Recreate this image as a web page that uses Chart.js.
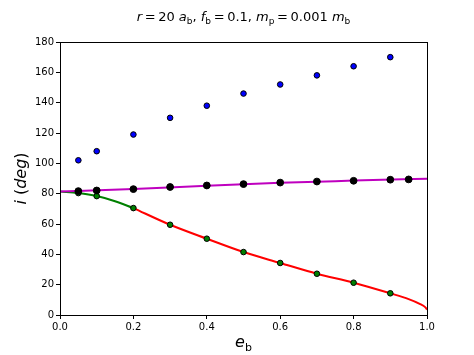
<!DOCTYPE html>
<html>
<head>
<meta charset="utf-8">
<script src="https://cdn.jsdelivr.net/npm/chart.js@4"></script>
<style>
  html, body { margin: 0; padding: 0; background: #fff; }
  #wrap { width: 474px; height: 355px; }
</style>
</head>
<body>
<div id="wrap"><canvas id="chart"></canvas></div>
<script>
// values
var eGrid = [0.05, 0.1, 0.2, 0.3, 0.4, 0.5, 0.6, 0.7, 0.8, 0.9];
var blueInc = [102, 108, 119, 130, 138, 146, 152, 158, 164, 170];

var blackE = [0.05, 0.1, 0.2, 0.3, 0.4, 0.5, 0.6, 0.7, 0.8, 0.9, 0.95];
var blackInc = [81.7, 82.1, 83.0, 84.4, 85.4, 86.3, 87.3, 88.0, 88.5, 89.2, 89.4];

var greenInc = [80.4, 78.4, 70.5, 59.5, 50.3, 41.5, 34.3, 27.2, 21.3, 14.3];

// curves
var magentaE = [0, 0.2, 0.4, 0.6, 0.8, 1.0];
var magentaInc = [81.5, 83.0, 85.3, 87.2, 88.6, 89.9];

var greenCurveE = [0, 0.05, 0.1, 0.15, 0.2];
var greenCurveInc = [81.5, 80.4, 78.4, 75.0, 70.5];

var redCurveE = [0.2, 0.3, 0.4, 0.5, 0.6, 0.7, 0.8, 0.9, 0.95, 0.98, 0.995, 1.0];
var redCurveInc = [70.5, 59.5, 50.3, 41.5, 34.3, 27.2, 21.3, 14.3, 10.5, 7.4, 5.2, 3.6];

var xTicks = [0, 0.2, 0.4, 0.6, 0.8, 1.0];

function pts(xs, ys) {
    return xs.map(function (x, i) { return { x: x, y: ys[i] }; });
}

// draws a run of [text, style] pieces, style: 'n' normal, 'i' italic, 's' subscript
function richText(ctx, parts, cx, y, size) {
    var subSize = Math.round(size * 0.7);
    function font(st) {
        if (st === 'i') return 'italic ' + size + 'px "DejaVu Sans"';
        if (st === 's') return subSize + 'px "DejaVu Sans"';
        return size + 'px "DejaVu Sans"';
    }
    var w = 0;
    parts.forEach(function (p) { ctx.font = font(p[1]); w += ctx.measureText(p[0]).width; });
    var x = cx - w / 2;
    ctx.textAlign = 'left';
    ctx.textBaseline = 'alphabetic';
    parts.forEach(function (p) {
        ctx.font = font(p[1]);
        ctx.fillText(p[0], x, p[1] === 's' ? y + size * 0.22 : y);
        x += ctx.measureText(p[0]).width;
    });
}

var decor = {
    id: 'decor',
    afterDraw: function (chart) {
        var ctx = chart.ctx, a = chart.chartArea;
        ctx.save();
        ctx.strokeStyle = '#000';
        ctx.lineWidth = 1;
        ctx.strokeRect(a.left + 0.5, a.top + 0.5, a.right - a.left, a.bottom - a.top);
        ctx.fillStyle = '#000';
        var cx = (a.left + a.right) / 2;
        var eq = '\u2009=\u2009';
        richText(ctx, [['r', 'i'], [eq + '20 ', 'n'], ['a', 'i'], ['b', 's'], [', ', 'n'],
            ['f', 'i'], ['b', 's'], [eq + '0.1, ', 'n'], ['m', 'i'], ['p', 's'],
            [eq + '0.001 ', 'n'], ['m', 'i'], ['b', 's']], cx, 21, 13);
        richText(ctx, [['e', 'i'], ['b', 's']], cx, 347, 16);
        ctx.translate(20, (a.top + a.bottom) / 2);
        ctx.rotate(-Math.PI / 2);
        richText(ctx, [['i', 'i'], [' (', 'n'], ['deg', 'i'], [')', 'n']], 0, 6, 16);
        ctx.restore();
    }
};

new Chart('chart', {
    type: 'scatter',
    data: {
        datasets: [{
            data: pts(eGrid, blueInc),
            backgroundColor: '#0000ff',
            borderColor: '#000',
            borderWidth: 1,
            pointRadius: 2.8,
            order: 0
        }, {
            data: pts(blackE, blackInc),
            backgroundColor: '#000',
            borderColor: '#000',
            borderWidth: 1,
            pointRadius: 3.4,
            order: 0
        }, {
            data: pts(eGrid, greenInc),
            backgroundColor: '#008000',
            borderColor: '#000',
            borderWidth: 1,
            pointRadius: 2.8,
            order: 0
        }, {
            type: 'line',
            data: pts(magentaE, magentaInc),
            borderColor: '#bf00bf',
            borderWidth: 2,
            pointRadius: 0,
            cubicInterpolationMode: 'monotone',
            order: 2
        }, {
            type: 'line',
            data: pts(greenCurveE, greenCurveInc),
            borderColor: '#008000',
            borderWidth: 2,
            pointRadius: 0,
            cubicInterpolationMode: 'monotone',
            order: 2
        }, {
            type: 'line',
            data: pts(redCurveE, redCurveInc),
            borderColor: '#ff0000',
            borderWidth: 2,
            pointRadius: 0,
            cubicInterpolationMode: 'monotone',
            order: 2
        }]
    },
    options: {
        responsive: true,
        maintainAspectRatio: false,
        animation: false,
        layout: { padding: { top: 42, right: 47, left: 0, bottom: 0 } },
        plugins: {
            legend: { display: false },
            tooltip: { enabled: false }
        },
        scales: {
            x: {
                type: 'linear',
                min: 0,
                max: 1,
                afterFit: function (s) { s.height = 40; },
                afterBuildTicks: function (s) { s.ticks = xTicks.map(function (v) { return { value: v }; }); },
                grid: { drawOnChartArea: false, tickLength: 4, tickColor: '#000' },
                border: { color: '#000' },
                ticks: {
                    color: '#000',
                    padding: 2,
                    maxRotation: 0,
                    font: { family: 'DejaVu Sans', size: 10 },
                    callback: function (v) { return v.toFixed(1); }
                }
            },
            y: {
                min: 0,
                max: 180,
                afterFit: function (s) { s.width = 60; },
                grid: { drawOnChartArea: false, tickLength: 4, tickColor: '#000' },
                border: { color: '#000' },
                ticks: {
                    stepSize: 20,
                    color: '#000',
                    padding: 2,
                    font: { family: 'DejaVu Sans', size: 10 }
                }
            }
        }
    },
    plugins: [decor]
});
</script>
</body>
</html>
